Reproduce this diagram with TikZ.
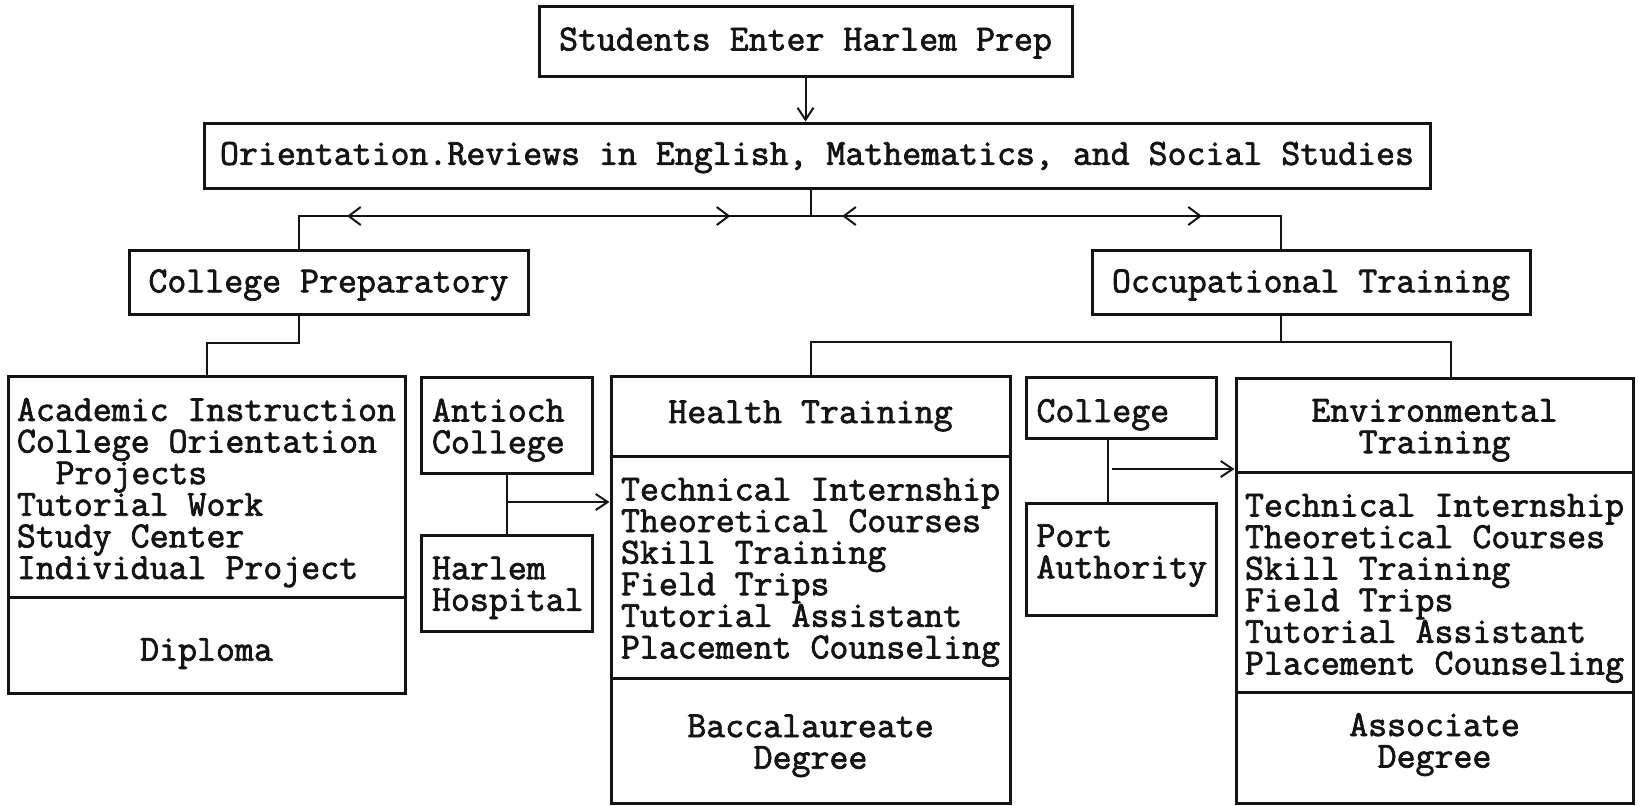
\documentclass[tikz,border=0pt]{standalone}
\usepackage{fontspec}
\usepackage{tikz}
\usetikzlibrary{arrows.meta, calc, decorations.markings}
\definecolor{inkblack}{RGB}{20, 20, 20}
\newfontfamily\chartface{Latin Modern Mono}[FakeBold=2]
\newcommand{\chartfont}{\fontsize{18.4}{15.8}\selectfont\chartface\lineskiplimit=-20pt}
\newcommand{\topgap}[1]{\rule{0pt}{#1}}
\newcommand{\bottomgap}[1]{\rule[-#1]{0pt}{0pt}}

\begin{document}
\begin{tikzpicture}[x=0.5pt, y=-0.5pt,
  box/.style={draw=inkblack, line width=1.5pt, text=inkblack, font=\chartfont, inner sep=0pt, align=center},
  link/.style={draw=inkblack, line width=1pt},
  tip/.style={-{Straight Barb[length=6pt, width=8pt]}},
  split left/.style={postaction={decorate}, decoration={markings,
    mark=at position 0.148 with {\arrowreversed{Straight Barb[length=6pt, width=9pt]}},
    mark=at position 0.852 with {\arrow{Straight Barb[length=6pt, width=9pt]}}}},
  split right/.style={postaction={decorate}, decoration={markings,
    mark=at position 0.062 with {\arrowreversed{Straight Barb[length=6pt, width=9pt]}},
    mark=at position 0.778 with {\arrow{Straight Barb[length=6pt, width=9pt]}}}}
]
  \useasboundingbox (0, 0) rectangle (1638, 805);

  % Entry and orientation
  \node[box, minimum width=266.5pt, minimum height=35pt] (enter) at (805.5, 41) {\topgap{13.5pt}Students Enter Harlem Prep};
  \node[box, minimum width=613pt, minimum height=32.5pt] (orient) at (817, 155.5) {\topgap{13.5pt}Orientation.Reviews in English, Mathematics, and Social Studies};

  % The two tracks
  \node[box, minimum width=199.5pt, minimum height=32pt] (prep) at (328.5, 282) {\topgap{14.5pt}College Preparatory};
  \node[box, minimum width=219pt, minimum height=32pt] (occup) at (1311, 282) {\topgap{14.5pt}Occupational Training};

  % College preparatory column
  \node[box, minimum width=198.5pt, minimum height=110.5pt, align=left] (acad) at (206.5, 486.5) {\topgap{17.6pt}Academic Instruction\\College Orientation\\\hspace*{1.05em}Projects\\Tutorial Work\\Study Center\\Individual Project};
  \node[box, minimum width=198.5pt, minimum height=48pt] (diploma) at (206.5, 645) {\topgap{19.8pt}Diploma};

  % Partners
  \node[box, minimum width=85.5pt, minimum height=48pt, align=left, text width=75pt] (antioch) at (507, 425) {\topgap{16.6pt}Antioch\\College};
  \node[box, minimum width=85.5pt, minimum height=48pt, align=left, text width=75pt] (harlem) at (507, 583) {\topgap{16.1pt}Harlem\\Hospital};
  \node[box, minimum width=95pt, minimum height=30.5pt, align=left, text width=85pt] (college) at (1121.5, 407.5) {\topgap{18.7pt}College};
  \node[box, minimum width=95pt, minimum height=56pt, align=left, text width=85pt] (port) at (1121.5, 559) {Port\\Authority\bottomgap{7.7pt}};

  % Health training column
  \node[box, minimum width=199.5pt, minimum height=40pt] (healthT) at (810.5, 416) {Health Training};
  \node[box, minimum width=199.5pt, minimum height=111pt, align=left] (healthL) at (810.5, 567) {\topgap{16.6pt}Technical Internship\\Theoretical Courses\\Skill Training\\Field Trips\\Tutorial Assistant\\Placement Counseling};
  \node[box, minimum width=199.5pt, minimum height=62.5pt] (bacc) at (810.5, 740.5) {\topgap{16.6pt}Baccalaureate\\Degree};

  % Environmental training column
  \node[box, minimum width=198.5pt, minimum height=47pt] (envT) at (1434.5, 425) {\topgap{16.6pt}Environmental\\Training};
  \node[box, minimum width=198.5pt, minimum height=110pt, align=left] (envL) at (1434.5, 582) {\topgap{17.6pt}Technical Internship\\Theoretical Courses\\Skill Training\\Field Trips\\Tutorial Assistant\\Placement Counseling};
  \node[box, minimum width=198.5pt, minimum height=55.5pt] (assoc) at (1434.5, 747.5) {Associate\\Degree\bottomgap{7.2pt}};

  % Connectors
  \draw[link, tip] (enter.south) -- (enter.south |- orient.north);
  \coordinate (split) at (811, 216);
  \draw[link] (orient.south -| split) -- (split);
  \draw[link, split left] (split) -| ($(prep.north)+(-29.5,0)$);
  \draw[link, split right] (split) -| ($(occup.north)+(-30,0)$);

  \coordinate (prepJoin) at (299, 343);
  \draw[link] ($(prep.south)+(-29.5,0)$) -- (prepJoin) -| (acad.north);

  \coordinate (occJoin) at (1281, 342);
  \draw[link] ($(occup.south)+(-30,0)$) -- (occJoin);
  \draw[link] (healthT.north) |- (occJoin) -| ($(envT.north)+(16.5,0)$);

  \coordinate (antJoin) at (507, 502);
  \draw[link] (antioch.south) -- (harlem.north);
  \draw[link, tip] (antJoin) -- (antJoin -| healthL.west);

  \coordinate (portJoin) at (1112, 469);
  \draw[link] ($(college.south)+(-14,0)$) -- ($(port.north)+(-14,0)$);
  \draw[link, tip] (portJoin) -- (portJoin -| envT.west);
\end{tikzpicture}
\end{document}
